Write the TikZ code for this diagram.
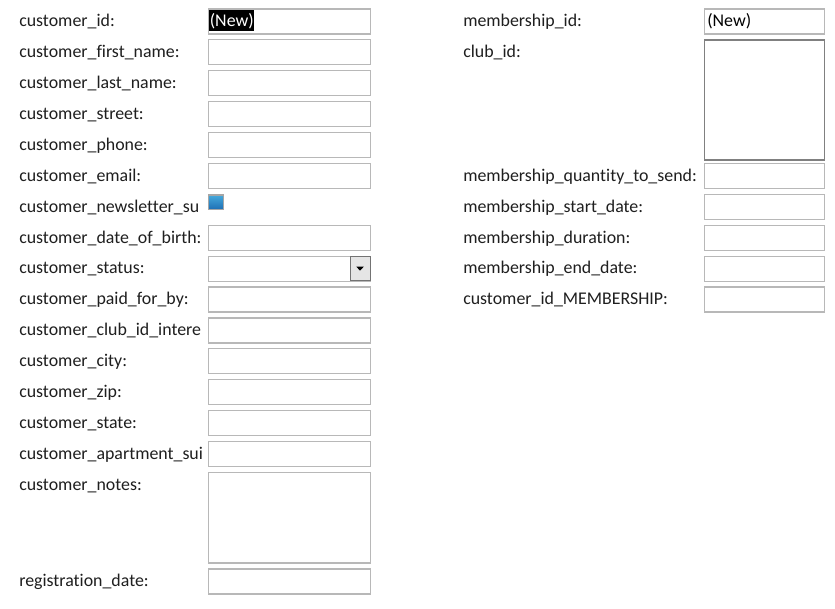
\documentclass[tikz,border=0pt]{standalone}
\usepackage{fontspec}
\setmainfont{Carlito}[Ligatures=NoCommon]
\usetikzlibrary{positioning}
\tikzstyle{fieldlabel}=[anchor=base west,inner sep=0pt,text=black!88,font=\fontsize{13.4pt}{15pt}\selectfont]
\tikzstyle{fieldbox}=[draw=black!28,fill=white,line width=0.9pt,anchor=north west,inner sep=0pt,minimum width=121.5pt,minimum height=18.75pt]
\tikzstyle{smallbox}=[fieldbox,minimum width=90pt]
\tikzstyle{checkbox}=[draw=black!35,top color={rgb,255:red,70;green,170;blue,220},bottom color={rgb,255:red,30;green,110;blue,180},line width=0.9pt,anchor=north west,inner sep=0pt,minimum size=11pt]
\tikzstyle{dropbtn}=[draw=black!55,fill=black!10,line width=0.75pt,anchor=north east,inner sep=0pt,minimum width=15pt,minimum height=18pt]

\begin{document}
\begin{tikzpicture}[x=0.75pt,y=-0.75pt]
    \useasboundingbox[fill=white] (0,0) rectangle (835,608);
    % left column
    \foreach \i/\name/\label in {{0/cid/customer\_id:}, {1/cfirst/customer\_first\_name:}, {2/clast/customer\_last\_name:}, {3/cstreet/customer\_street:}, {4/cphone/customer\_phone:}, {5/cemail/customer\_email:}, {6/cnews/customer\_newsletter\_su}, {7/cbirth/customer\_date\_of\_birth:}, {8/cstatus/customer\_status:}, {9/cpaid/customer\_paid\_for\_by:}, {10/cclub/customer\_club\_id\_intere}, {11/ccity/customer\_city:}, {12/czip/customer\_zip:}, {13/cstate/customer\_state:}, {14/capt/customer\_apartment\_sui}, {15/cnotes/customer\_notes:}}
        \node[fieldlabel] (\name label) at (19,{8.3+30.9*\i+18.4}) {\label};
    \node[fieldlabel] (cregl) at (19,586) {registration\_date:};

    \foreach \i/\name in {0/cid, 1/cfirst, 2/clast, 3/cstreet, 4/cphone, 5/cemail, 7/cbirth, 8/cstatus, 9/cpaid, 10/cclub, 11/ccity, 12/czip, 13/cstate, 14/capt}
        \node[fieldbox] (\name) at (208,{8.3+30.9*\i}) {};
    \node[fieldbox,minimum height=68pt] (cnotes) at (208,471.7) {};
    \node[fieldbox] (creg) at (208,568.3) {};

    \node[checkbox] (cnews) at (208,194.3) {};
    \node[dropbtn] (cstatusbtn) at ([xshift=-0.5pt,yshift=-0.4pt]cstatus.north east) {};
    \fill[black] ([xshift=-2.8pt,yshift=1.4pt]cstatusbtn.center) -- ++(5.6pt,0) -- ++(-2.8pt,-3pt) -- cycle;
    \node[fill=black,text=white,anchor=north west,inner xsep=0.4pt,inner ysep=0pt,minimum height=15.75pt,font=\fontsize{13.4pt}{15pt}\selectfont] (cidnew) at (209,10) {(New)};

    % right column
    \foreach \y/\name/\label in {{0/mid/membership\_id:}, {1/mclub/club\_id:}, {5/mqty/membership\_quantity\_to\_send:}, {6/mstart/membership\_start\_date:}, {7/mdur/membership\_duration:}, {8/mend/membership\_end\_date:}, {9/mcust/customer\_id\_MEMBERSHIP:}}
        \node[fieldlabel] (\name label) at (463,{8.3+30.9*\y+18.4}) {\label};

    \foreach \y/\name in {0/mid, 5/mqty, 6/mstart, 7/mdur, 8/mend, 9/mcust}
        \node[smallbox] (\name) at (704,{8.3+30.9*\y}) {};
    \node[smallbox,draw=black!50,minimum height=90pt] (mclub) at (704,39.3) {};
    \node[fieldlabel,text=black] (midnew) at (707,26.7) {(New)};
\end{tikzpicture}
\end{document}
